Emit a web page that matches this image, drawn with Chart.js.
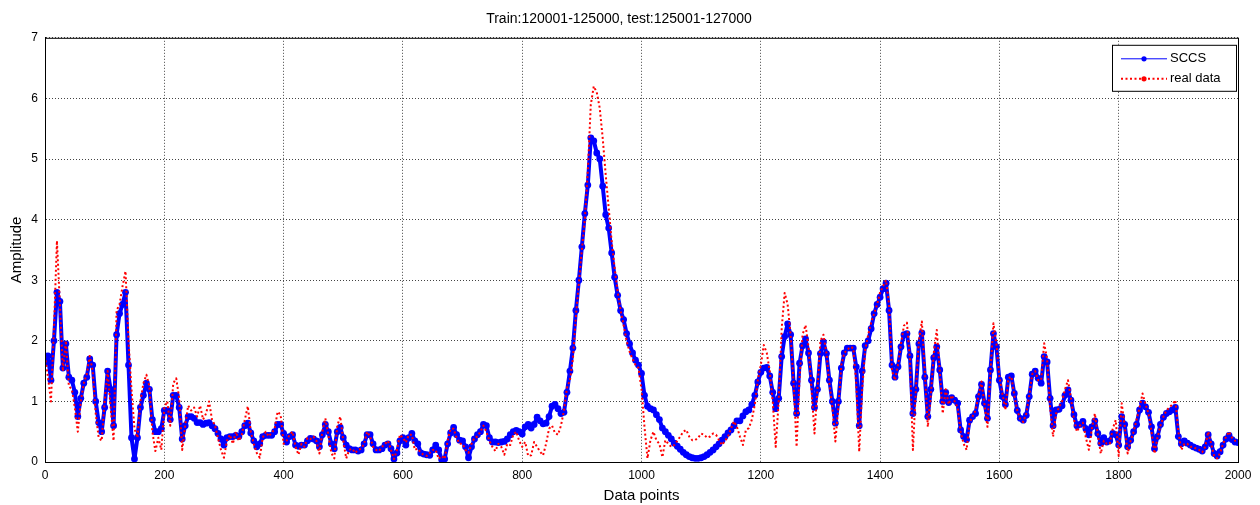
<!DOCTYPE html>
<html>
<head>
<meta charset="utf-8">
<title>SCCS vs real data</title>
<script src="https://cdn.jsdelivr.net/npm/chart.js@4.4.1/dist/chart.umd.min.js"></script>
<style>
  html, body { margin: 0; padding: 0; background: #fff; }
  #wrap { width: 1260px; height: 505px; }
</style>
</head>
<body>
<div id="wrap"><canvas id="ampChart"></canvas></div>
<script>
// Samples every 5 data points, from 0 to 2000
const sampleStep = 5;

// SCCS prediction
const sccs = [
  1.65,1.75,1.35,2.0,2.8,2.65,1.55,1.95,1.4,1.35,1.15,0.75,1.05,1.3,1.4,1.7,1.6,1.0,0.65,0.5,
  0.9,1.5,1.2,0.6,2.1,2.45,2.6,2.8,1.6,0.4,0.05,0.4,0.9,1.1,1.3,1.2,0.7,0.5,0.5,0.55,
  0.85,0.85,0.7,1.1,1.1,0.9,0.38,0.6,0.75,0.75,0.72,0.65,0.65,0.62,0.64,0.65,0.6,0.55,0.47,0.38,
  0.28,0.4,0.42,0.42,0.44,0.42,0.5,0.6,0.64,0.48,0.35,0.25,0.3,0.42,0.44,0.44,0.44,0.5,0.62,0.62,
  0.47,0.33,0.42,0.45,0.28,0.26,0.28,0.28,0.35,0.39,0.38,0.35,0.25,0.45,0.62,0.5,0.3,0.22,0.5,0.57,
  0.4,0.28,0.22,0.2,0.2,0.18,0.2,0.3,0.45,0.45,0.3,0.2,0.2,0.22,0.28,0.3,0.22,0.05,0.15,0.35,
  0.4,0.28,0.4,0.47,0.35,0.3,0.15,0.13,0.12,0.11,0.2,0.28,0.2,0.04,0.05,0.3,0.48,0.57,0.45,0.36,
  0.35,0.25,0.07,0.25,0.38,0.45,0.5,0.62,0.6,0.4,0.33,0.33,0.32,0.33,0.34,0.38,0.45,0.5,0.52,0.5,
  0.46,0.58,0.62,0.56,0.62,0.74,0.68,0.63,0.64,0.75,0.92,0.95,0.88,0.8,0.82,1.15,1.5,1.88,2.5,3.0,
  3.55,4.1,4.57,5.35,5.3,5.1,5.0,4.55,4.08,3.86,3.45,3.05,2.75,2.5,2.35,2.12,1.95,1.8,1.68,1.6,
  1.46,1.1,0.92,0.88,0.86,0.78,0.7,0.56,0.5,0.44,0.38,0.31,0.26,0.21,0.16,0.12,0.09,0.07,0.06,0.06,
  0.07,0.09,0.12,0.16,0.2,0.25,0.3,0.36,0.42,0.48,0.53,0.6,0.68,0.68,0.76,0.83,0.86,0.95,1.1,1.32,
  1.48,1.55,1.56,1.42,1.15,0.88,1.05,1.74,2.07,2.28,2.1,1.3,0.8,1.63,1.92,2.03,1.8,1.35,0.9,1.2,
  1.79,1.98,1.79,1.35,1.0,0.64,1.0,1.55,1.8,1.88,1.88,1.88,1.57,0.6,1.5,1.92,2.0,2.2,2.45,2.6,
  2.72,2.86,2.95,2.5,1.6,1.4,1.57,1.9,2.1,2.12,1.75,0.8,1.2,1.95,2.13,1.4,0.75,1.2,1.72,1.9,
  1.52,1.0,1.15,0.98,1.06,1.02,0.97,0.53,0.42,0.37,0.69,0.75,0.8,1.08,1.28,0.97,0.72,1.52,2.12,1.9,
  1.35,1.08,0.95,1.4,1.42,1.13,0.85,0.72,0.69,0.77,1.08,1.45,1.5,1.38,1.3,1.74,1.65,1.05,0.6,0.86,
  0.87,0.93,1.1,1.19,1.02,0.78,0.6,0.62,0.67,0.55,0.45,0.58,0.68,0.47,0.31,0.4,0.33,0.35,0.47,0.45,
  0.28,0.75,0.62,0.25,0.36,0.5,0.62,0.86,0.97,0.91,0.82,0.58,0.22,0.42,0.62,0.74,0.8,0.83,0.86,0.9,
  0.42,0.3,0.35,0.31,0.28,0.25,0.23,0.21,0.18,0.25,0.45,0.3,0.14,0.1,0.17,0.28,0.38,0.44,0.37,0.33,
  0.32
];

// measured signal
const realData = [
  1.75,1.4,1.0,2.2,3.65,2.6,1.5,2.0,1.25,1.2,0.9,0.5,1.0,1.3,1.45,1.75,1.5,0.8,0.4,0.35,
  1.0,1.5,0.9,0.35,2.5,2.6,2.9,3.15,2.0,1.2,0.55,0.4,1.0,1.3,1.44,1.25,0.5,0.18,0.4,0.2,
  0.9,1.0,0.6,1.3,1.38,1.05,0.2,0.6,0.93,0.85,0.9,0.75,0.93,0.7,0.8,1.0,0.7,0.6,0.4,0.2,
  0.07,0.35,0.45,0.3,0.5,0.35,0.45,0.7,0.92,0.5,0.3,0.15,0.07,0.4,0.5,0.42,0.48,0.55,0.83,0.78,
  0.3,0.35,0.45,0.5,0.25,0.12,0.3,0.25,0.4,0.38,0.42,0.35,0.14,0.5,0.72,0.45,0.15,0.06,0.6,0.75,
  0.35,0.06,0.2,0.22,0.15,0.2,0.22,0.3,0.5,0.42,0.25,0.2,0.18,0.25,0.3,0.35,0.2,0.05,0.2,0.45,
  0.4,0.32,0.45,0.45,0.2,0.22,0.15,0.12,0.1,0.15,0.2,0.2,0.05,0.1,0.05,0.35,0.55,0.55,0.4,0.3,
  0.3,0.2,0.15,0.3,0.4,0.42,0.5,0.6,0.5,0.35,0.25,0.18,0.3,0.25,0.12,0.3,0.28,0.45,0.5,0.35,
  0.25,0.33,0.1,0.11,0.33,0.25,0.17,0.11,0.3,0.55,0.6,0.48,0.45,0.6,0.85,1.22,1.35,1.7,2.4,2.95,
  3.5,4.0,4.8,5.9,6.2,6.1,5.84,5.34,4.74,4.19,3.64,3.2,2.81,2.5,2.26,2.0,1.82,1.7,1.6,1.55,
  1.2,0.58,0.06,0.36,0.5,0.36,0.3,0.08,0.36,0.3,0.25,0.28,0.35,0.42,0.5,0.53,0.42,0.36,0.36,0.4,
  0.47,0.45,0.4,0.42,0.47,0.45,0.36,0.28,0.35,0.42,0.55,0.67,0.58,0.42,0.28,0.53,0.56,0.7,0.95,1.35,
  1.6,1.93,1.8,1.5,1.0,0.25,1.0,2.2,2.79,2.6,2.1,1.3,0.25,1.4,2.1,2.26,1.9,1.2,0.47,1.2,
  2.0,2.1,1.8,1.3,0.9,0.34,0.9,1.6,1.8,1.85,1.9,1.88,1.3,0.17,1.2,1.85,2.1,2.3,2.45,2.6,
  2.8,2.9,3.0,2.6,1.5,1.35,1.6,1.95,2.25,2.3,1.7,0.2,1.2,2.0,2.32,1.5,0.58,1.1,1.8,2.18,
  1.5,0.8,1.2,0.95,1.1,1.0,0.9,0.5,0.3,0.2,0.65,0.75,0.85,1.1,1.33,0.95,0.58,1.5,2.29,1.95,
  1.4,1.13,0.86,1.38,1.41,1.1,0.85,0.7,0.66,0.8,1.1,1.45,1.5,1.35,1.35,1.96,1.7,0.9,0.42,0.8,
  0.9,1.0,1.2,1.35,1.05,0.7,0.5,0.6,0.65,0.4,0.2,0.55,0.8,0.45,0.14,0.35,0.3,0.3,0.55,0.69,
  0.1,0.97,0.6,0.14,0.35,0.5,0.7,0.9,1.13,0.95,0.8,0.5,0.14,0.4,0.6,0.75,0.85,0.9,0.95,1.02,
  0.5,0.2,0.3,0.3,0.25,0.25,0.22,0.2,0.16,0.25,0.5,0.3,0.1,0.06,0.15,0.3,0.42,0.5,0.4,0.35,
  0.35
];

const xPoints = sccs.map((_, i) => i * sampleStep);
const seriesNames = ['SCCS', 'real data'];
const chartTitle = 'Train:120001-125000, test:125001-127000';

const toXY = vals => vals.map((v, i) => ({ x: xPoints[i], y: v }));

const FONT = "'Liberation Sans', Arial, sans-serif";

// black box around the plot area
const boxPlugin = {
  id: 'plotBox',
  afterDatasetsDraw(chart) {
    const { ctx, chartArea: a } = chart;
    ctx.save();
    ctx.strokeStyle = '#000';
    ctx.lineWidth = 1;
    ctx.strokeRect(a.left + 0.5, a.top + 0.5, a.right - a.left, a.bottom - a.top);
    ctx.restore();
  }
};

// legend box in the top right corner of the plot
const legendBox = {
  id: 'legendBox',
  afterDraw(chart) {
    const ctx = chart.ctx;
    const a = chart.chartArea;
    const w = 124, h = 46;
    const x0 = a.right - w - 2, y0 = a.top + 7;
    ctx.save();
    ctx.fillStyle = '#fff';
    ctx.fillRect(x0, y0, w, h);
    ctx.strokeStyle = '#000';
    ctx.lineWidth = 1;
    ctx.strokeRect(x0 + 0.5, y0 + 0.5, w, h);
    ctx.font = '13px ' + FONT;
    ctx.textBaseline = 'middle';
    chart.data.datasets.forEach((ds, i) => {
      const y = y0 + 14 + i * 20;
      ctx.beginPath();
      ctx.strokeStyle = ds.borderColor;
      ctx.lineWidth = i === 0 ? 1 : 2;
      ctx.setLineDash(ds.borderDash || []);
      ctx.moveTo(x0 + 9, y);
      ctx.lineTo(x0 + 55, y);
      ctx.stroke();
      ctx.setLineDash([]);
      ctx.beginPath();
      ctx.fillStyle = ds.borderColor;
      ctx.arc(x0 + 32, y, 2.6, 0, Math.PI * 2);
      ctx.fill();
      ctx.fillStyle = '#000';
      ctx.fillText(ds.label, x0 + 58, y);
    });
    ctx.restore();
  }
};

const ctx = document.getElementById('ampChart').getContext('2d');

new Chart(ctx, {
  type: 'line',
  data: {
    datasets: [
      {
        label: seriesNames[0],
        data: toXY(sccs),
        borderColor: '#0000ff',
        backgroundColor: '#0000ff',
        borderWidth: 4,
        borderJoinStyle: 'round',
        borderCapStyle: 'round',
        pointRadius: 3.4,
        pointBorderWidth: 0,
        pointBackgroundColor: '#0000ff',
        pointBorderColor: '#0000ff',
        fill: false,
        order: 1
      },
      {
        label: seriesNames[1],
        data: toXY(realData),
        borderColor: '#ff0000',
        backgroundColor: '#ff0000',
        borderWidth: 2,
        borderDash: [2, 2.5],
        borderJoinStyle: 'round',
        pointRadius: 0,
        fill: false,
        order: 0
      }
    ]
  },
  options: {
    responsive: true,
    maintainAspectRatio: false,
    animation: false,
    events: [],
    layout: { padding: { left: 0, right: 22, top: 0, bottom: 0 } },
    plugins: {
      legend: { display: false },
      tooltip: { enabled: false },
      title: {
        display: true,
        text: chartTitle,
        color: '#000',
        font: { family: FONT, size: 14, weight: 'normal' },
        padding: { top: 11, bottom: 10 }
      }
    },
    scales: {
      x: {
        type: 'linear',
        min: 0,
        max: 2000,
        ticks: {
          stepSize: 200,
          color: '#000',
          padding: 6,
          font: { family: FONT, size: 12 },
          callback: v => String(v)
        },
        grid: {
          color: '#444',
          lineWidth: 1,
          drawTicks: false
        },
        border: { display: true, color: '#000', dash: [1, 2] },
        title: {
          display: true,
          text: 'Data points',
          color: '#000',
          font: { family: FONT, size: 15 },
          padding: { top: 2, bottom: 0 }
        },
        afterFit(scale) { scale.height = 43; }
      },
      y: {
        min: 0,
        max: 7,
        ticks: {
          stepSize: 1,
          color: '#000',
          padding: 7,
          font: { family: FONT, size: 12 }
        },
        grid: {
          color: '#444',
          lineWidth: 1,
          drawTicks: false
        },
        border: { display: true, color: '#000', dash: [1, 2] },
        title: {
          display: true,
          text: 'Amplitude',
          color: '#000',
          font: { family: FONT, size: 15 },
          padding: { top: 8, bottom: 4 }
        },
        afterFit(scale) { scale.width = 45; }
      }
    }
  },
  plugins: [boxPlugin, legendBox]
});
</script>
</body>
</html>
